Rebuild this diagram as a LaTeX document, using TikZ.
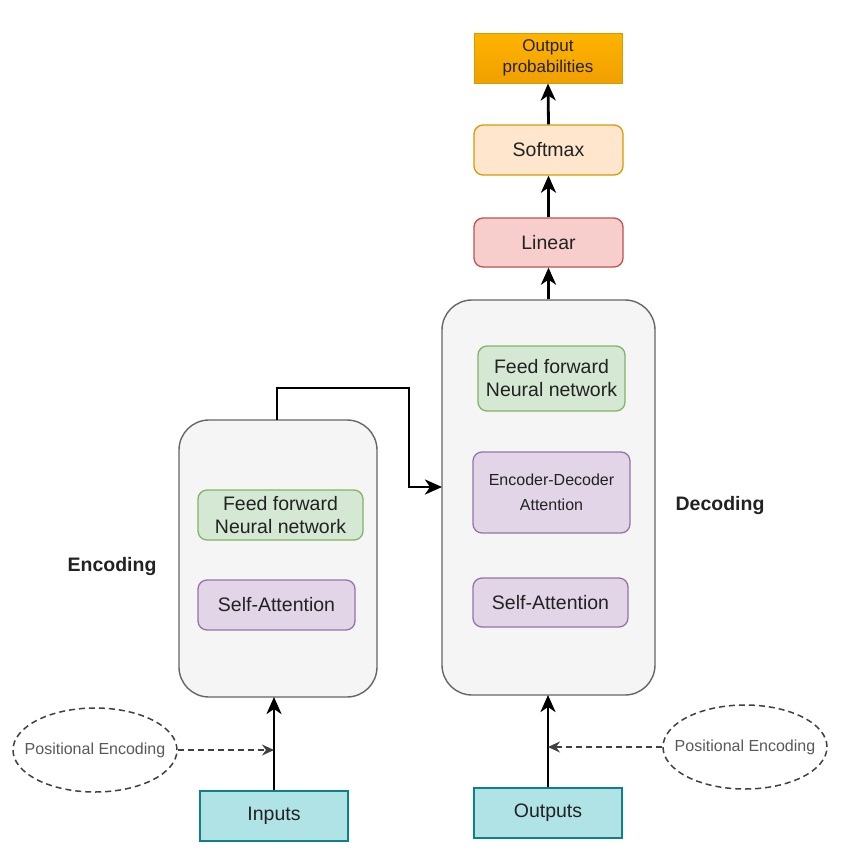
\documentclass[tikz,border=0pt]{standalone}
\usepackage{fontspec}
\setmainfont{Liberation Sans}
\usetikzlibrary{arrows.meta,shapes.geometric}
\definecolor{grayfill}{HTML}{F5F5F5}
\definecolor{grayline}{HTML}{666666}
\definecolor{greenfill}{HTML}{D5E8D4}
\definecolor{greenline}{HTML}{82B366}
\definecolor{purpfill}{HTML}{E1D5E7}
\definecolor{purpline}{HTML}{9673A6}
\definecolor{tealfill}{HTML}{B0E3E6}
\definecolor{tealline}{HTML}{0E8088}
\definecolor{redfill}{HTML}{F8CECC}
\definecolor{redline}{HTML}{B85450}
\definecolor{peachfill}{HTML}{FFE6CC}
\definecolor{orangeline}{HTML}{D79B00}
\definecolor{orangetop}{HTML}{FFB300}
\definecolor{orangebot}{HTML}{F0A000}
\definecolor{txt}{HTML}{222222}
\begin{document}
\begin{tikzpicture}[x=1pt,y=-1pt,
  font=\fontsize{19.5}{23}\selectfont, text=txt,
  blk/.style={draw, line width=1.3pt, rounded corners=9pt, align=center, inner sep=0pt},
  big/.style={draw=grayline, fill=grayfill, line width=1.4pt, rounded corners=30pt},
  arr/.style={line width=2.8pt, -{Stealth[length=17pt,width=15pt,inset=5pt]}},
  darr/.style={line width=1.5pt, dash pattern=on 6pt off 4pt, draw=black!75, -{Stealth[length=12pt,width=11pt,inset=4pt]}},
  pe/.style={ellipse, draw=black!75, line width=1.5pt, dash pattern=on 6pt off 4pt, minimum width=164pt, minimum height=84pt, inner xsep=-13pt, inner ysep=0pt, font=\fontsize{16}{19}\selectfont, text=black!65}
]
\useasboundingbox (0,0) rectangle (850,868);
% big boxes
\node[big, minimum width=213pt, minimum height=395pt] (dec) at (548.5,497.5) {};
\node[big, minimum width=198pt, minimum height=277pt] (enc) at (278,558.5) {};
% top chain
\node[draw=orangeline, line width=1pt, top color=orangetop, bottom color=orangebot, minimum width=148pt, minimum height=50pt, align=center, inner sep=0pt, font=\fontsize{17}{21}\selectfont] (prob) at (548,58) {Output\\probabilities};
\node[blk, draw=orangeline, fill=peachfill, minimum width=149pt, minimum height=50pt] (soft) at (548.5,150) {Softmax};
\node[blk, draw=redline, fill=redfill, minimum width=149pt, minimum height=49pt] (lin) at (548.5,242.5) {Linear};
% decoder inner
\node[blk, draw=greenline, fill=greenfill, minimum width=147pt, minimum height=65pt] (dffn) at (551.5,378.5) {Feed forward\\Neural network};
\node[blk, draw=purpline, fill=purpfill, minimum width=157pt, minimum height=81pt, font=\fontsize{16}{25}\selectfont] (eda) at (551.5,492.5) {Encoder-Decoder\\Attention};
\node[blk, draw=purpline, fill=purpfill, minimum width=155pt, minimum height=49pt] (dsa) at (550.5,602.5) {Self-Attention};
% encoder inner
\node[blk, draw=greenline, fill=greenfill, minimum width=165pt, minimum height=50pt] (effn) at (280.5,515) {Feed forward\\Neural network};
\node[blk, draw=purpline, fill=purpfill, minimum width=157pt, minimum height=50pt] (esa) at (276.5,605) {Self-Attention};
% labels
\node[font=\fontsize{19.5}{23}\selectfont\bfseries] (enclab) at (112,566) {Encoding};
\node[font=\fontsize{19.5}{23}\selectfont\bfseries] (declab) at (720,505) {Decoding};
% inputs / outputs
\node[draw=tealline, fill=tealfill, line width=1.3pt, minimum width=148pt, minimum height=50pt, inner sep=0pt] (inp) at (274,816) {Inputs};
\node[draw=tealline, fill=tealfill, line width=1.3pt, minimum width=148pt, minimum height=50pt, inner sep=0pt] (outp) at (548,813) {Outputs};
% positional encodings
\node[pe] (pel) at (95,750) {Positional Encoding};
\node[pe] (per) at (745,747) {Positional Encoding};
% coordinates
\coordinate (encin) at (274,697);
\coordinate (encj) at (274,750);
\coordinate (decin) at (548,695);
\coordinate (decj) at (548,747);
\coordinate (enctop) at (277,420);
\coordinate (decleft) at (442,487);
% arrows
\draw[arr] (inp.north) -- (encin);
\draw[arr] (outp.north) -- (decin);
\draw[darr] (pel.east) -- (encj);
\draw[darr] (per.west) -- (decj);
\draw[arr] (enctop) -- (277,388) -- (409,388) -- (409,487) -- (decleft);
\draw[arr] (dec.north) -- (lin.south);
\draw[arr] (lin.north) -- (soft.south);
\draw[arr] (soft.north) -- (prob.south);
\end{tikzpicture}
\end{document}
